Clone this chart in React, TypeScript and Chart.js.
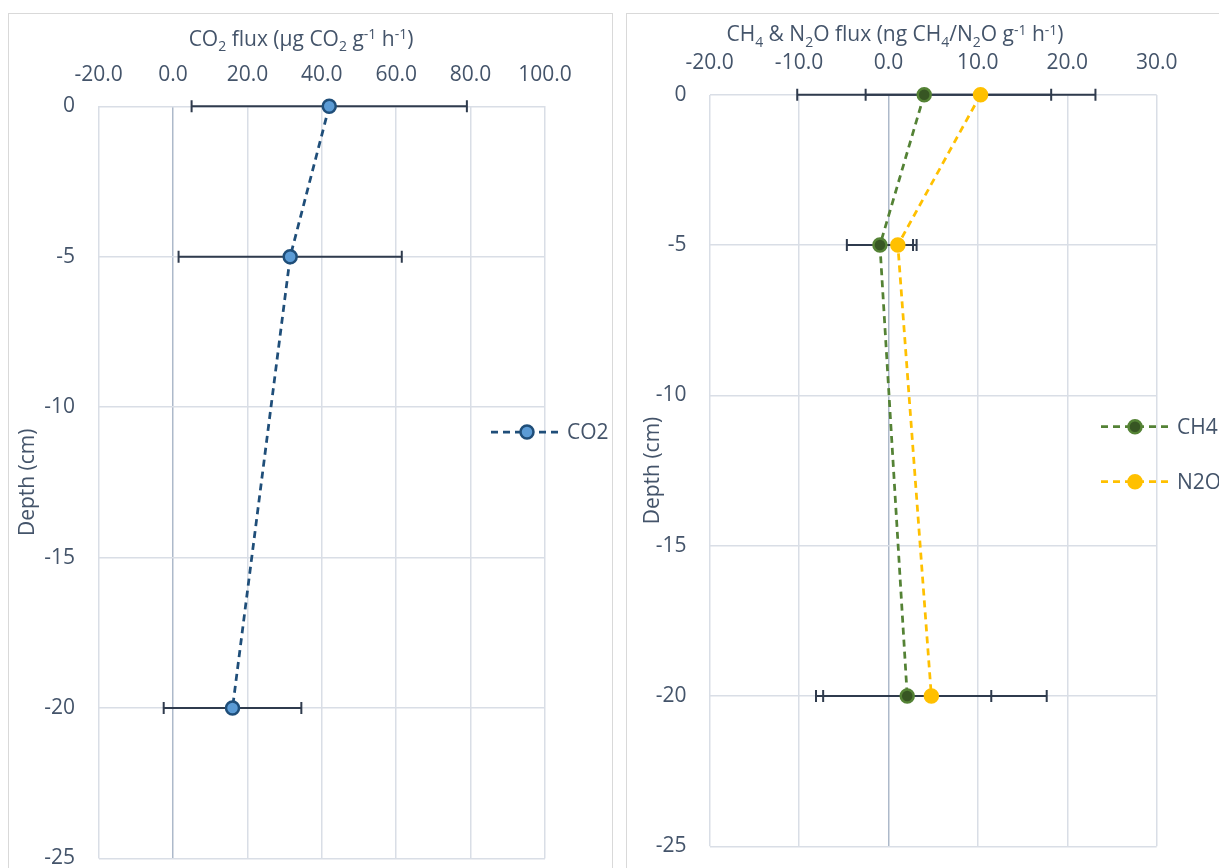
import React, { useEffect, useRef } from "react";
import { Chart, registerables } from "chart.js";

Chart.register(...registerables);

// Sampling depths (cm) shared by both panels
const depths = [0, -5, -20];

// CO2 flux (µg CO2 g-1 h-1) with error-bar half widths
const co2Flux = [42.0, 31.5, 16.0];
const co2Err = [37.0, 30.0, 18.5];

// CH4 and N2O flux (ng g-1 h-1) with error-bar half widths
const ch4Flux = [4.0, -0.95, 2.1];
const ch4Err = [14.2, 3.7, 9.4];
const n2oFlux = [10.3, 1.05, 4.8];
const n2oErr = [12.85, 2.1, 12.9];

// Axis ranges
const co2Range = { min: -20, max: 100, step: 20 };
const gasRange = { min: -20, max: 30, step: 10 };
const depthRange = { min: -25, max: 0, step: 5 };

const FONT = "'Open Sans', 'Noto Sans', sans-serif";
const TEXT = "#44546a";
const GRID = "#d9dee6";
const ZERO = "#adb9ca";
const ERR = "#2f3b4d";

type Seg = [string, "n" | "sub" | "sup"];

const co2Title: Seg[] = [
  ["CO", "n"], ["2", "sub"], [" flux (µg CO", "n"], ["2", "sub"],
  [" g", "n"], ["-1", "sup"], [" h", "n"], ["-1", "sup"], [")", "n"],
];
const gasTitle: Seg[] = [
  ["CH", "n"], ["4", "sub"], [" & N", "n"], ["2", "sub"], ["O flux (ng CH", "n"],
  ["4", "sub"], ["/N", "n"], ["2", "sub"], ["O g", "n"], ["-1", "sup"],
  [" h", "n"], ["-1", "sup"], [")", "n"],
];

interface Series {
  label: string;
  values: number[];
  errors: number[];
  line: string;
  fill: string;
  edge: string;
}

interface PanelSpec {
  left: number;
  width: number;
  area: { l: number; t: number; r: number; b: number };
  xRange: { min: number; max: number; step: number };
  xPad: number;
  yGap: number;
  title: Seg[];
  titlePos: [number, number];
  yTitlePos: [number, number];
  legend: { x0: number; x1: number; mx: number; tx: number; ys: number[] };
  series: Series[];
}

const CANVAS_H = 860;
const FS = 21;
const CAP = FS * 0.357;

function drawRich(ctx: CanvasRenderingContext2D, segs: Seg[], cx: number, baseY: number, size: number) {
  const small = Math.round(size * 0.67);
  ctx.save();
  ctx.fillStyle = TEXT;
  ctx.textAlign = "left";
  ctx.textBaseline = "alphabetic";
  const widths = segs.map(([t, m]) => {
    ctx.font = `${m === "n" ? size : small}px ${FONT}`;
    return ctx.measureText(t).width;
  });
  const total = widths.reduce((a, b) => a + b, 0);
  let x = cx - total / 2;
  segs.forEach(([t, m], i) => {
    ctx.font = `${m === "n" ? size : small}px ${FONT}`;
    const dy = m === "sub" ? size * 0.24 : m === "sup" ? -size * 0.33 : 0;
    ctx.fillText(t, x, baseY + dy);
    x += widths[i];
  });
  ctx.restore();
}

function ChartPanel({ spec }: { spec: PanelSpec }) {
  const ref = useRef<HTMLCanvasElement | null>(null);

  useEffect(() => {
    const canvas = ref.current;
    if (!canvas) return;

    const errorBars = {
      id: "errorBars",
      beforeDatasetsDraw(chart: any) {
        const { ctx } = chart;
        const xs = chart.scales.x;
        const ys = chart.scales.y;
        ctx.save();
        ctx.strokeStyle = ERR;
        ctx.lineWidth = 2;
        spec.series.forEach((s) => {
          s.values.forEach((v, i) => {
            const y = ys.getPixelForValue(depths[i]);
            const a = xs.getPixelForValue(v - s.errors[i]);
            const b = xs.getPixelForValue(v + s.errors[i]);
            ctx.beginPath();
            ctx.moveTo(a, y);
            ctx.lineTo(b, y);
            ctx.moveTo(a, y - 6);
            ctx.lineTo(a, y + 6);
            ctx.moveTo(b, y - 6);
            ctx.lineTo(b, y + 6);
            ctx.stroke();
          });
        });
        ctx.restore();
      },
    };

    const annotations = {
      id: "annotations",
      afterDraw(chart: any) {
        const { ctx } = chart;
        drawRich(ctx, spec.title, spec.titlePos[0], spec.titlePos[1] + CAP, FS);

        ctx.save();
        ctx.fillStyle = TEXT;
        ctx.font = `${FS}px ${FONT}`;
        ctx.textAlign = "center";
        ctx.textBaseline = "alphabetic";
        ctx.translate(spec.yTitlePos[0] + CAP, spec.yTitlePos[1]);
        ctx.rotate(-Math.PI / 2);
        ctx.fillText("Depth (cm)", 0, 0);
        ctx.restore();

        const lg = spec.legend;
        spec.series.forEach((s, i) => {
          const y = lg.ys[i];
          ctx.save();
          ctx.strokeStyle = s.line;
          ctx.lineWidth = 2.75;
          ctx.setLineDash([7, 5]);
          ctx.beginPath();
          ctx.moveTo(lg.x0, y);
          ctx.lineTo(lg.x1, y);
          ctx.stroke();
          ctx.setLineDash([]);
          ctx.beginPath();
          ctx.arc(lg.mx, y, 6.5, 0, Math.PI * 2);
          ctx.fillStyle = s.fill;
          ctx.fill();
          ctx.lineWidth = 2.5;
          ctx.strokeStyle = s.edge;
          ctx.stroke();
          ctx.fillStyle = TEXT;
          ctx.font = `${FS}px ${FONT}`;
          ctx.textAlign = "left";
          ctx.textBaseline = "alphabetic";
          ctx.fillText(s.label, lg.tx, y + CAP);
          ctx.restore();
        });
      },
    };

    const chart = new Chart(canvas, {
      type: "scatter",
      data: {
        datasets: spec.series.map((s) => ({
          label: s.label,
          data: s.values.map((v, i) => ({ x: v, y: depths[i] })),
          showLine: true,
          clip: false,
          borderColor: s.line,
          borderWidth: 2.75,
          borderDash: [7, 5],
          pointRadius: 6.5,
          pointHoverRadius: 6.5,
          pointBorderWidth: 2.5,
          pointBackgroundColor: s.fill,
          pointBorderColor: s.edge,
        })),
      },
      options: {
        responsive: false,
        animation: false,
        devicePixelRatio: 1,
        layout: {
          padding: {
            left: 0,
            top: 0,
            right: spec.width - spec.area.r,
            bottom: CANVAS_H - spec.area.b,
          },
        },
        plugins: {
          legend: { display: false },
          tooltip: { enabled: false },
        },
        scales: {
          x: {
            type: "linear",
            position: "top",
            min: spec.xRange.min,
            max: spec.xRange.max,
            afterFit: (scale: any) => {
              scale.height = spec.area.t;
            },
            ticks: {
              stepSize: spec.xRange.step,
              padding: spec.xPad,
              color: TEXT,
              font: { family: FONT, size: FS },
              maxRotation: 0,
              callback: (v: any) => Number(v).toFixed(1),
            },
            grid: {
              color: (c: any) => (c.tick && c.tick.value === 0 ? ZERO : GRID),
              lineWidth: 1.5,
              drawTicks: false,
            },
            border: { display: false },
          },
          y: {
            type: "linear",
            min: depthRange.min,
            max: depthRange.max,
            afterFit: (scale: any) => {
              scale.width = spec.area.l;
            },
            ticks: {
              stepSize: depthRange.step,
              padding: 0,
              color: TEXT,
              font: { family: FONT, size: FS },
            },
            grid: {
              color: GRID,
              lineWidth: 1.5,
              drawTicks: true,
              tickLength: spec.yGap,
              tickColor: "rgba(0,0,0,0)",
            },
            border: { display: false },
          },
        },
      },
      plugins: [errorBars, annotations],
    } as any);

    return () => chart.destroy();
  }, [spec]);

  return (
    <div
      style={{
        position: "absolute",
        left: spec.left,
        top: 13,
        width: spec.width,
        height: CANVAS_H,
        border: "1px solid #d9d9d9",
        overflow: "hidden",
        background: "#fff",
      }}
    >
      <canvas ref={ref} width={spec.width} height={CANVAS_H} style={{ display: "block" }} />
    </div>
  );
}

const co2Panel: PanelSpec = {
  left: 8,
  width: 603,
  area: { l: 89.6, t: 92.3, r: 536, b: 844.4 },
  xRange: co2Range,
  xPad: 18.5,
  yGap: 23.6,
  title: co2Title,
  titlePos: [292, 24.3],
  yTitlePos: [18, 468.3],
  legend: { x0: 482, x1: 550, mx: 518, tx: 558, ys: [418] },
  series: [
    { label: "CO2", values: co2Flux, errors: co2Err, line: "#1f4e79", fill: "#5b9bd5", edge: "#1f4e79" },
  ],
};

const gasPanel: PanelSpec = {
  left: 626,
  width: 600,
  area: { l: 82.6, t: 80.7, r: 529.7, b: 832.3 },
  xRange: gasRange,
  xPad: 19.1,
  yGap: 23,
  title: gasTitle,
  titlePos: [268, 20],
  yTitlePos: [25, 456.5],
  legend: { x0: 474, x1: 542, mx: 508, tx: 550, ys: [412.7, 467.7] },
  series: [
    { label: "CH4", values: ch4Flux, errors: ch4Err, line: "#548235", fill: "#375623", edge: "#548235" },
    { label: "N2O", values: n2oFlux, errors: n2oErr, line: "#ffc000", fill: "#ffc000", edge: "#ffc000" },
  ],
};

export default function App() {
  return (
    <div
      style={{
        position: "fixed",
        left: 0,
        top: 0,
        width: 1219,
        height: 868,
        overflow: "hidden",
        background: "#fff",
      }}
    >
      <ChartPanel spec={co2Panel} />
      <ChartPanel spec={gasPanel} />
    </div>
  );
}
